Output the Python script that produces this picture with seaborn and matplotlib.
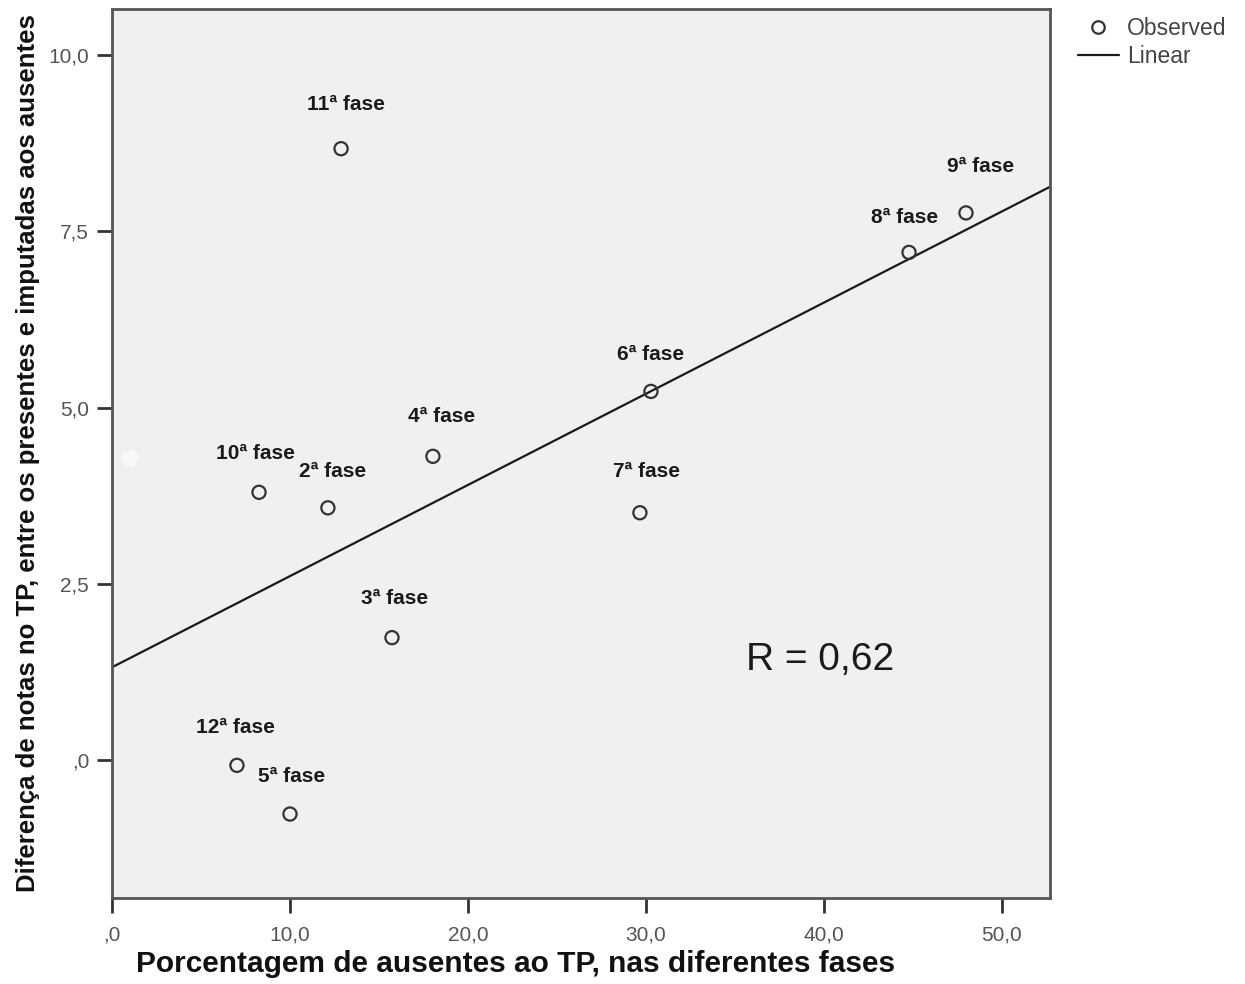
import numpy as np
import pandas as pd
import matplotlib
matplotlib.use("Agg")
import matplotlib.pyplot as plt
import seaborn as sns
from matplotlib.lines import Line2D

# data
fases = ["11ª fase", "9ª fase", "8ª fase", "6ª fase", "4ª fase", "10ª fase",
         "2ª fase", "7ª fase", "3ª fase", "12ª fase", "5ª fase"]
pct_ausentes = [12.87, 47.98, 44.78, 30.28, 18.03, 8.26, 12.13, 29.66, 15.73, 7.02, 10.0]
dif_notas = [8.67, 7.76, 7.20, 5.23, 4.31, 3.80, 3.58, 3.51, 1.74, -0.07, -0.76]
# faint (almost invisible) point near the y axis
faint_x = [1.0]
faint_y = [4.28]
# fitted linear line (end points)
fit_x = [0.0, 52.7]
fit_y = [1.32, 8.13]

x_ticks = [0, 10, 20, 30, 40, 50]
x_ticklabels = [",0", "10,0", "20,0", "30,0", "40,0", "50,0"]
y_ticks = [0, 2.5, 5, 7.5, 10]
y_ticklabels = [",0", "2,5", "5,0", "7,5", "10,0"]

# label offsets (pixels) relative to each point
label_dx = [5, 15, -4, 0, 9, -4, 5, 7, 3, -2, 2]
label_dy = [44, 46, 35, 37, 40, 39, 36, 41, 39, 38, 38]

df = pd.DataFrame({"x": pct_ausentes, "y": dif_notas, "fase": fases})
fit = pd.DataFrame({"x": fit_x, "y": fit_y})

sns.set_style("white")
fam = ["Liberation Sans", "DejaVu Sans"]
plt.rcParams["font.family"] = fam

fig = plt.figure(figsize=(12.45, 9.84), dpi=100)
ax = fig.add_axes([112 / 1245, 1 - 898 / 984, (1050 - 112) / 1245, (898 - 9) / 984])
ax.set_facecolor("#f0f0f0")

sns.lineplot(data=fit, x="x", y="y", ax=ax, color="#1a1a1a", linewidth=1.6, zorder=2)
sns.scatterplot(data=df, x="x", y="y", ax=ax, s=90, facecolor="none",
                edgecolor="#333333", linewidth=1.6, zorder=3)
ax.scatter(faint_x, faint_y, s=150, color="#f8f8f8", edgecolor="none", zorder=3)

for i, row in df.iterrows():
    ax.annotate(row["fase"], (row["x"], row["y"]),
                xytext=(label_dx[i], label_dy[i]), textcoords="offset pixels",
                ha="center", va="center", fontsize=15, fontweight="bold",
                color="#1a1a1a", family=fam)

ax.text(39.8, 1.42, "R = 0,62", fontsize=28, color="#1a1a1a", ha="center",
        va="center", family=fam)

ax.set_xlim(0, 52.7)
ax.set_ylim(-1.95, 10.65)
ax.set_xticks(x_ticks)
ax.set_xticklabels(x_ticklabels)
ax.set_yticks(y_ticks)
ax.set_yticklabels(y_ticklabels)
ax.tick_params(axis="both", direction="out", length=10.5, width=2, color="#333333",
               labelsize=15, labelcolor="#555555", pad=6, bottom=True, left=True)
ax.tick_params(axis="x", pad=9)
for sp in ax.spines.values():
    sp.set_color("#555555")
    sp.set_linewidth(2)

ax.set_xlabel("Porcentagem de ausentes ao TP, nas diferentes fases",
              fontsize=21.5, fontweight="bold", color="#111111")
ax.xaxis.set_label_coords((516 - 112) / 938, -(950 - 898) / 889)
ax.set_ylabel("Diferença de notas no TP, entre os presentes e imputadas aos ausentes",
              fontsize=18.5, fontweight="bold", color="#111111", labelpad=6)

handles = [Line2D([], [], marker="o", linestyle="none", markerfacecolor="none",
                  markeredgecolor="#333333", markersize=9, markeredgewidth=1.6),
           Line2D([], [], color="#1a1a1a", linewidth=1.6)]
fig.legend(handles, ["Observed", "Linear"], loc="upper left",
           bbox_to_anchor=(1057 / 1245, 1 + 4 / 984), frameon=False,
           handlelength=1.8, handletextpad=0.35, labelspacing=0.25,
           labelcolor="#444444", prop={"family": fam, "size": 16.5})

fig.savefig("out.png", dpi=100)
